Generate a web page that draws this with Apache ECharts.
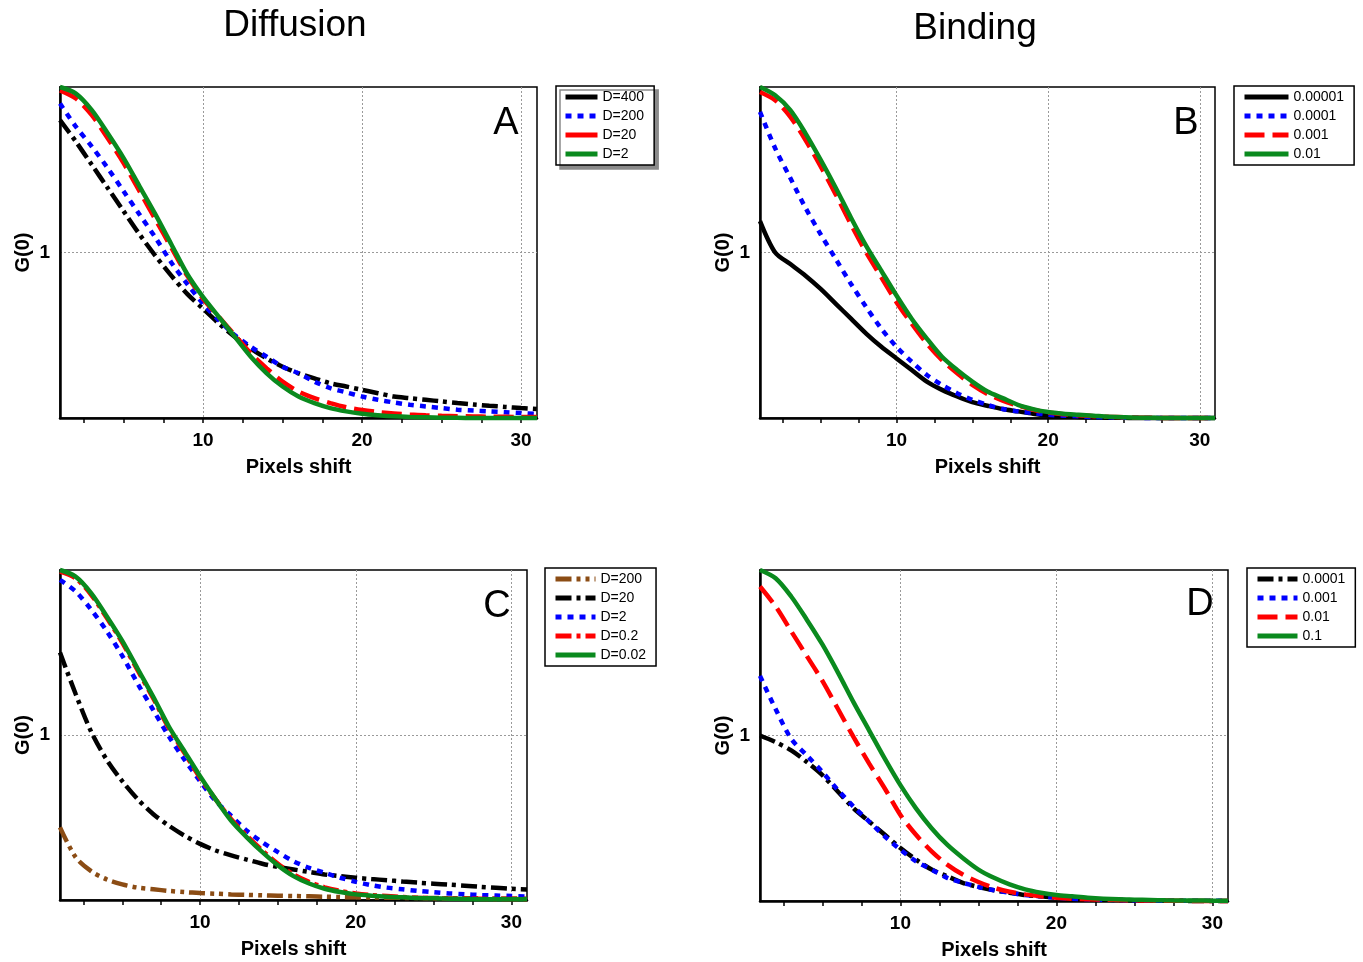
<!DOCTYPE html>
<html>
<head>
<meta charset="utf-8">
<script src="https://cdn.jsdelivr.net/npm/echarts@6/dist/echarts.min.js"></script>
<style>
  html, body { margin: 0; background: #fff; }
  #main { width: 1363px; height: 962px; }
</style>
</head>
<body>
<div id="main"></div>
<script>
// pixel shift positions
const xs = [1,2,3,4,5,6,7,8,9,10,11,12,13,14,15,16,17,18,19,20,21,22,23,24,25,26,27,28,29,30,31];
const xTickMinor = [2.5,5,7.5,10,12.5,15,17.5,20,22.5,25,27.5,30];
const xTickLabels = [10,20,30];
const yTickLabels = [1];

// A - diffusion
const aD400 = [1.80,1.67,1.53,1.39,1.25,1.11,0.98,0.86,0.75,0.66,0.57,0.49,0.42,0.36,0.31,0.27,0.24,0.21,0.19,0.17,0.15,0.13,0.12,0.11,0.10,0.09,0.082,0.074,0.067,0.06,0.054];
const aD200 = [1.90,1.76,1.64,1.51,1.37,1.23,1.09,0.94,0.81,0.69,0.59,0.50,0.43,0.37,0.31,0.27,0.22,0.18,0.155,0.13,0.11,0.094,0.08,0.07,0.06,0.05,0.045,0.04,0.035,0.03,0.025];
const aD20  = [1.98,1.93,1.83,1.69,1.54,1.37,1.20,1.03,0.86,0.72,0.61,0.50,0.39,0.30,0.22,0.16,0.12,0.09,0.065,0.048,0.036,0.027,0.021,0.016,0.013,0.011,0.009,0.008,0.007,0.006,0.006];
const aD2   = [2.00,1.96,1.86,1.72,1.57,1.40,1.23,1.05,0.87,0.73,0.61,0.49,0.37,0.27,0.19,0.13,0.09,0.06,0.04,0.026,0.017,0.01,0.006,0.004,0.002,0.001,0,0,0,0,0];

// B - binding
const bK5 = [1.19,1.00,0.93,0.86,0.78,0.69,0.60,0.51,0.43,0.36,0.29,0.22,0.17,0.13,0.096,0.074,0.054,0.04,0.026,0.016,0.01,0.006,0.004,0.002,0.001,0,0,0,0,0,0];
const bK4 = [1.85,1.63,1.45,1.27,1.11,0.96,0.81,0.67,0.54,0.43,0.34,0.26,0.20,0.15,0.11,0.08,0.054,0.04,0.03,0.02,0.014,0.01,0.006,0.004,0.002,0.001,0,0,0,0,0];
const bK3 = [1.97,1.92,1.82,1.68,1.52,1.35,1.17,1.00,0.85,0.70,0.57,0.45,0.35,0.27,0.20,0.145,0.105,0.075,0.05,0.033,0.023,0.016,0.011,0.007,0.004,0.002,0.001,0,0,0,0];
const bK2 = [2.00,1.95,1.86,1.72,1.56,1.39,1.21,1.04,0.89,0.74,0.60,0.48,0.37,0.29,0.22,0.16,0.12,0.08,0.054,0.036,0.026,0.02,0.014,0.008,0.004,0.002,0.001,0,0,0,0];

// C - diffusion
const cD200  = [0.44,0.26,0.175,0.125,0.095,0.075,0.065,0.055,0.048,0.042,0.038,0.034,0.031,0.028,0.026,0.024,0.022,0.02,0.018,0.016,0.015,0.014,0.013,0.012,0.012,0.011,0.011,0.01,0.009,0.009,0.008];
const cD20   = [1.50,1.25,1.02,0.85,0.72,0.61,0.52,0.45,0.39,0.34,0.30,0.27,0.245,0.22,0.20,0.185,0.17,0.155,0.145,0.135,0.127,0.12,0.112,0.105,0.099,0.093,0.087,0.08,0.074,0.068,0.064];
const cD2    = [1.94,1.87,1.76,1.63,1.48,1.31,1.15,0.99,0.85,0.72,0.60,0.51,0.42,0.35,0.29,0.235,0.195,0.165,0.135,0.11,0.09,0.075,0.065,0.055,0.047,0.04,0.035,0.03,0.027,0.024,0.02];
const cD02   = [1.99,1.95,1.85,1.71,1.56,1.39,1.22,1.04,0.89,0.74,0.61,0.49,0.39,0.30,0.22,0.155,0.11,0.077,0.055,0.04,0.03,0.024,0.018,0.014,0.011,0.009,0.008,0.007,0.006,0.006,0.005];
const cD002  = [2.00,1.96,1.86,1.72,1.57,1.40,1.23,1.05,0.90,0.75,0.61,0.48,0.38,0.29,0.21,0.145,0.10,0.068,0.048,0.034,0.026,0.02,0.016,0.012,0.01,0.008,0.006,0.005,0.005,0.004,0.004];

// D - binding
const dK4 = [1.00,0.96,0.91,0.84,0.76,0.66,0.56,0.48,0.40,0.32,0.25,0.19,0.15,0.11,0.085,0.065,0.05,0.036,0.028,0.02,0.014,0.01,0.008,0.006,0.004,0.003,0.002,0.001,0,0,0];
const dK3 = [1.36,1.16,0.98,0.88,0.78,0.67,0.57,0.48,0.39,0.31,0.24,0.19,0.14,0.11,0.085,0.065,0.05,0.036,0.028,0.02,0.014,0.01,0.008,0.006,0.004,0.003,0.002,0.002,0.001,0.001,0.001];
const dK2 = [1.90,1.78,1.63,1.48,1.33,1.16,0.99,0.83,0.68,0.52,0.40,0.30,0.22,0.16,0.115,0.08,0.056,0.04,0.028,0.02,0.014,0.01,0.008,0.006,0.004,0.003,0.002,0.001,0,0,0];
const dK1 = [2.00,1.95,1.84,1.70,1.55,1.38,1.20,1.03,0.86,0.70,0.56,0.44,0.34,0.26,0.19,0.14,0.10,0.07,0.05,0.036,0.028,0.02,0.014,0.01,0.008,0.006,0.004,0.003,0.003,0.002,0.002];

const FONT = 'Liberation Sans, Arial, sans-serif';
const BLACK = '#000', BLUE = '#0000ff', RED = '#ff0000', GREEN = '#0a8a1e', BROWN = '#8b4c14';
const DOT = [6, 6], DASH = [20, 8], DASHDOT = [16, 5, 4, 5], DASHDOTDOT = [16, 5, 4, 5, 4, 5];

const panels = [
  { id: 'A', grid: {left: 60, top: 87, width: 477, height: 331}, legendPos: {left: 556, top: 86},
    iconW: 32, pad: [4, 10, 4, 7], shadow: true,
    lines: [
      ['D=400', aD400, BLACK, DASHDOT, 'solid'],
      ['D=200', aD200, BLUE, DOT],
      ['D=20', aD20, RED, DASH, 'solid'],
      ['D=2', aD2, GREEN, 'solid']
    ] },
  { id: 'B', grid: {left: 760, top: 87, width: 455, height: 331}, legendPos: {left: 1234, top: 86},
    iconW: 44, pad: [4, 10, 4, 8],
    lines: [
      ['0.00001', bK5, BLACK, 'solid'],
      ['0.0001', bK4, BLUE, DOT],
      ['0.001', bK3, RED, DASH],
      ['0.01', bK2, GREEN, 'solid']
    ] },
  { id: 'C', grid: {left: 60, top: 570, width: 467, height: 330}, legendPos: {left: 545, top: 568},
    iconW: 40, pad: [4, 10, 4, 8],
    lines: [
      ['D=200', cD200, BROWN, DASHDOTDOT],
      ['D=20', cD20, BLACK, DASHDOT],
      ['D=2', cD2, BLUE, DOT],
      ['D=0.2', cD02, RED, DASHDOT],
      ['D=0.02', cD002, GREEN, 'solid']
    ] },
  { id: 'D', grid: {left: 760, top: 570, width: 468, height: 331}, legendPos: {left: 1247, top: 568},
    iconW: 40, pad: [4, 10, 4, 8],
    lines: [
      ['0.0001', dK4, BLACK, DASHDOT],
      ['0.001', dK3, BLUE, DOT],
      ['0.01', dK2, RED, DASH],
      ['0.1', dK1, GREEN, 'solid']
    ] }
];

const grids = [], xAxes = [], yAxes = [], legends = [], series = [];
const dotted = {color: '#9a9a9a', width: 1, type: [2, 2]};
const boldText = {color: BLACK, fontFamily: FONT, fontWeight: 'bold', fontSize: 19};

panels.forEach((p, i) => {
  grids.push(Object.assign({show: true, borderColor: BLACK, borderWidth: 1.5, containLabel: false}, p.grid));
  xAxes.push({
    gridIndex: i, type: 'value', min: 1, max: 31,
    axisLine: {onZero: false, lineStyle: {color: BLACK, width: 2.5}},
    axisTick: {show: true, length: 5, customValues: xTickMinor, lineStyle: {color: BLACK, width: 1.5}},
    axisLabel: Object.assign({customValues: xTickLabels, margin: 13}, boldText),
    splitLine: {show: false},
    name: 'Pixels shift', nameLocation: 'middle', nameGap: 39,
    nameTextStyle: Object.assign({}, boldText, {fontSize: 20})
  });
  // second axis only carries the vertical grid lines
  xAxes.push({
    gridIndex: i, type: 'value', min: 1, max: 31, position: 'top',
    axisLine: {show: false, onZero: false},
    axisTick: {show: false, customValues: xTickLabels},
    axisLabel: {show: false},
    splitLine: {show: true, lineStyle: dotted}
  });
  yAxes.push({
    gridIndex: i, type: 'value', min: 0, max: 2,
    axisLine: {show: true, onZero: false, lineStyle: {color: BLACK, width: 2.5}},
    axisTick: {show: false, customValues: yTickLabels},
    axisLabel: Object.assign({customValues: yTickLabels, margin: 10}, boldText),
    splitLine: {show: true, lineStyle: dotted},
    name: 'G(0)', nameLocation: 'middle', nameGap: 27,
    nameTextStyle: Object.assign({}, boldText, {fontSize: 20})
  });

  const legendData = [];
  p.lines.forEach(([name, vals, color, type, legendType]) => {
    const sname = p.id + ':' + name;
    series.push({
      type: 'line', name: sname, xAxisIndex: 2 * i, yAxisIndex: i,
      data: xs.map((x, k) => [x, vals[k]]),
      symbol: 'none', showSymbol: false, smooth: 0.3, clip: false,
      lineStyle: {color: color, width: 4.5, type: type, cap: 'butt'},
      itemStyle: {color: color}
    });
    const item = {name: sname, lineStyle: {width: 5, type: legendType || type, cap: 'butt'}};
    legendData.push(item);
  });

  legends.push(Object.assign({
    orient: 'vertical', data: legendData, formatter: n => n.slice(2),
    itemWidth: p.iconW, itemHeight: 14, itemGap: 5, padding: p.pad,
    itemStyle: {color: 'transparent', borderWidth: 0, opacity: 0},
    lineStyle: {width: 5},
    backgroundColor: '#fff', borderColor: BLACK, borderWidth: 1.5, selectedMode: false,
    textStyle: {fontSize: 14, fontFamily: FONT, color: BLACK},
    shadowColor: p.shadow ? '#8a8a8a' : 'transparent', shadowOffsetX: p.shadow ? 4 : 0, shadowOffsetY: p.shadow ? 4 : 0
  }, p.legendPos));
});

const bigText = (txt, x, y, size) => ({
  type: 'text', x: x, y: y, z: 10,
  style: {text: txt, fontSize: size, fontFamily: FONT, fill: BLACK, align: 'center', verticalAlign: 'middle'}
});

const chart = echarts.init(document.getElementById('main'));
chart.setOption({
  animation: false,
  backgroundColor: '#fff',
  grid: grids,
  xAxis: xAxes,
  yAxis: yAxes,
  legend: legends,
  series: series,
  graphic: [
    bigText('Diffusion', 295, 26, 37),
    bigText('Binding', 975, 29, 37),
    bigText('A', 506, 124, 38),
    bigText('B', 1186, 124, 38),
    bigText('C', 497, 607, 38),
    bigText('D', 1200, 605, 38)
  ]
});
</script>
</body>
</html>
